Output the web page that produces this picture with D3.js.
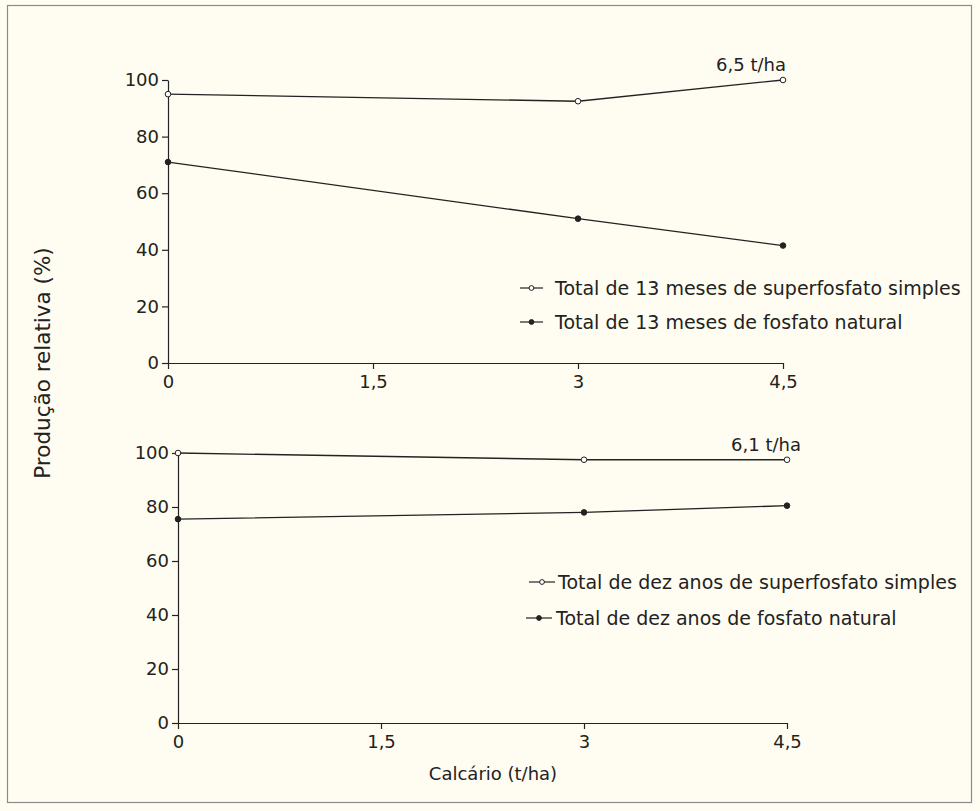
<!DOCTYPE html>
<html>
<head>
<meta charset="utf-8">
<script src="https://cdn.jsdelivr.net/npm/d3@7"></script>
<style>
  html, body { margin: 0; padding: 0; background: #fffdf1; }
  svg { display: block; }
  text { font-family: "DejaVu Sans", sans-serif; fill: #222; }
</style>
</head>
<body>
<svg id="chart" width="980" height="811"></svg>
<script>
// Lime rates (t/ha) on the x axis
const limeRates = [0, 3, 4.5];
const xTicks = [0, 1.5, 3, 4.5];
const xTickLabels = ["0", "1,5", "3", "4,5"];
const yTicks = [0, 20, 40, 60, 80, 100];

// Upper panel: 13-month totals (relative yield, %)
const superfosfato13 = [95, 92.5, 100];
const fosfatoNatural13 = [71, 51, 41.5];
const topMaxLabel = "6,5 t/ha";
const topLegend = ["Total de 13 meses de superfosfato simples", "Total de 13 meses de fosfato natural"];

// Lower panel: ten-year totals (relative yield, %)
const superfosfato10 = [100, 97.5, 97.5];
const fosfatoNatural10 = [75.5, 78, 80.5];
const bottomMaxLabel = "6,1 t/ha";
const bottomLegend = ["Total de dez anos de superfosfato simples", "Total de dez anos de fosfato natural"];

const yTitle = "Produção relativa (%)";
const xTitle = "Calcário (t/ha)";

const svg = d3.select("#chart");
const ink = "#222";

// frame
svg.append("rect")
  .attr("x", 7.5).attr("y", 5.5)
  .attr("width", 964).attr("height", 797)
  .attr("fill", "#fffdf1")
  .attr("stroke", "#8a8a8a").attr("stroke-width", 1.2);

function panel(cfg) {
  const x = d3.scaleLinear().domain([0, 4.5]).range([cfg.x0, cfg.x1]);
  const y = d3.scaleLinear().domain([0, 100]).range([cfg.y0, cfg.y1]);
  const g = svg.append("g");

  const xAxis = g.append("g")
    .attr("transform", `translate(0,${cfg.y0})`)
    .call(d3.axisBottom(x).tickValues(xTicks)
      .tickFormat((d, i) => xTickLabels[i]).tickSize(6).tickSizeOuter(0).tickPadding(6));
  const yAxis = g.append("g")
    .attr("transform", `translate(${cfg.x0},0)`)
    .call(d3.axisLeft(y).tickValues(yTicks).tickSize(6).tickSizeOuter(0).tickPadding(3));

  [xAxis, yAxis].forEach(a => {
    a.selectAll("path.domain").attr("stroke", ink).attr("stroke-width", 1.2);
    a.selectAll(".tick line").attr("stroke", ink).attr("stroke-width", 1.2);
    a.selectAll(".tick text").attr("font-size", 18).attr("fill", "#222")
      .style("font-family", "'DejaVu Sans', sans-serif");
  });

  const line = d3.line().x((d, i) => x(limeRates[i])).y(d => y(d));

  [[cfg.open, "#fff"], [cfg.filled, ink]].forEach(([vals, fill]) => {
    g.append("path").datum(vals)
      .attr("d", line).attr("fill", "none")
      .attr("stroke", ink).attr("stroke-width", 1.3);
    g.selectAll(null).data(vals).enter().append("circle")
      .attr("cx", (d, i) => x(limeRates[i])).attr("cy", d => y(d))
      .attr("r", 2.8).attr("fill", fill)
      .attr("stroke", ink).attr("stroke-width", 1);
  });

  g.append("text")
    .attr("x", cfg.labelX).attr("y", cfg.labelY)
    .attr("text-anchor", "end").attr("font-size", 18)
    .text(cfg.label);

  cfg.legend.forEach((t, i) => {
    const L = cfg.legendRows[i];
    g.append("line")
      .attr("x1", L.lx0).attr("x2", L.lx1).attr("y1", L.y).attr("y2", L.y)
      .attr("stroke", ink).attr("stroke-width", 1.2);
    g.append("circle")
      .attr("cx", (L.lx0 + L.lx1) / 2).attr("cy", L.y).attr("r", 2.4)
      .attr("fill", i === 0 ? "#fff" : ink).attr("stroke", ink).attr("stroke-width", 1);
    g.append("text")
      .attr("x", L.tx).attr("y", L.y + 7)
      .attr("font-size", 19).text(t);
  });
}

panel({
  x0: 168, x1: 783, y0: 363, y1: 80,
  open: superfosfato13, filled: fosfatoNatural13,
  label: topMaxLabel, labelX: 786, labelY: 71,
  legend: topLegend,
  legendRows: [
    { lx0: 520, lx1: 543, tx: 555, y: 288 },
    { lx0: 520, lx1: 543, tx: 555, y: 322 }
  ]
});

panel({
  x0: 178, x1: 787, y0: 723, y1: 453,
  open: superfosfato10, filled: fosfatoNatural10,
  label: bottomMaxLabel, labelX: 801, labelY: 451,
  legend: bottomLegend,
  legendRows: [
    { lx0: 529, lx1: 555, tx: 558, y: 582 },
    { lx0: 526, lx1: 552, tx: 556, y: 618 }
  ]
});

svg.append("text")
  .attr("transform", "translate(50,363) rotate(-90)")
  .attr("text-anchor", "middle").attr("font-size", 21.5)
  .text(yTitle);

svg.append("text")
  .attr("x", 493).attr("y", 780)
  .attr("text-anchor", "middle").attr("font-size", 18)
  .text(xTitle);
</script>
</body>
</html>
